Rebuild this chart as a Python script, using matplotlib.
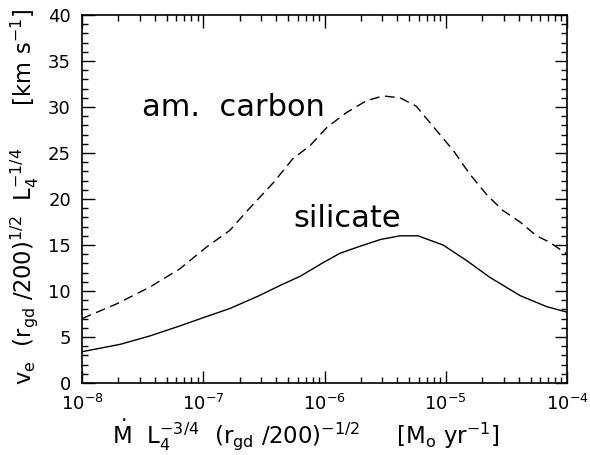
import matplotlib
matplotlib.use('Agg')
import matplotlib.pyplot as plt
import numpy as np
from matplotlib.ticker import MultipleLocator, LogLocator, NullFormatter

plt.rcParams['mathtext.default'] = 'regular'
plt.rcParams['font.family'] = 'DejaVu Sans'

# silicate (solid line)
sil_x = [1e-8, 2.06e-8, 3.6e-8, 6.4e-8, 1e-7, 1.66e-7, 2.9e-7, 4.3e-7, 6.3e-7,
         9.5e-7, 1.34e-6, 1.95e-6, 2.9e-6, 4.2e-6, 5.9e-6, 9.5e-6, 1.49e-5,
         2.3e-5, 4.1e-5, 6.8e-5, 1e-4]
sil_y = [3.4, 4.2, 5.1, 6.2, 7.1, 8.1, 9.5, 10.6, 11.6,
         13.0, 14.1, 14.85, 15.6, 16.0, 16.0, 15.0, 13.3,
         11.5, 9.5, 8.3, 7.7]

# amorphous carbon (dashed line)
carb_x = [1e-8, 1.93e-8, 3.6e-8, 6.4e-8, 1.07e-7, 1.66e-7, 2.3e-7, 3.8e-7, 5.5e-7,
          7.6e-7, 1.05e-6, 1.52e-6, 2.23e-6, 3.05e-6, 4.2e-6, 5.7e-6, 8.2e-6,
          1.15e-5, 1.58e-5, 2.2e-5, 2.96e-5, 4.1e-5, 5.6e-5, 7.2e-5, 1e-4]
carb_y = [7.0, 8.6, 10.4, 12.4, 14.8, 16.6, 18.7, 21.8, 24.4,
          25.8, 27.8, 29.4, 30.7, 31.2, 31.0, 30.1, 27.6,
          25.3, 22.7, 20.4, 18.75, 17.5, 16.0, 15.3, 14.0]

fig = plt.figure(figsize=(5.9, 4.55), dpi=100)
ax = fig.add_axes([82/590, 72/455, 485/590, 368/455])

ax.plot(sil_x, sil_y, color='black', lw=1.0)
ax.plot(carb_x, carb_y, color='black', lw=1.0, dashes=(7, 4))

ax.set_xscale('log')
ax.set_xlim(1e-8, 1e-4)
ax.set_ylim(0, 40)

ax.yaxis.set_major_locator(MultipleLocator(5))
ax.yaxis.set_minor_locator(MultipleLocator(1))
ax.xaxis.set_major_locator(LogLocator(base=10, numticks=10))
ax.xaxis.set_minor_locator(LogLocator(base=10, subs=np.arange(2, 10), numticks=20))
ax.xaxis.set_minor_formatter(NullFormatter())

ax.tick_params(which='both', direction='in', top=True, right=True, width=1.0,
               labelsize=13)
ax.tick_params(which='major', length=9, pad=8)
ax.tick_params(which='minor', length=4.5)
for s in ax.spines.values():
    s.set_linewidth(1.2)

ax.text(3.1e-8, 29.9, 'am.  carbon', fontsize=22, va='center', ha='left')
ax.text(5.5e-7, 17.9, 'silicate', fontsize=22, va='center', ha='left')

ax.set_xlabel(r'$\dot{M}\ \ L_4^{-3/4}\ \ (r_{gd}\ /200)^{-1/2}$     [M$_o$ yr$^{-1}$]',
              fontsize=16.5, va='center')
ax.xaxis.set_label_coords(0.462, -0.142)
ax.set_ylabel(r'$v_e\ \ (r_{gd}\ /200)^{1/2}\ \ L_4^{-1/4}$      [km s$^{-1}$]',
              fontsize=16.3)
ax.yaxis.set_label_coords(-0.085, 0.505)

fig.savefig('out.png', dpi=100, facecolor='white')
